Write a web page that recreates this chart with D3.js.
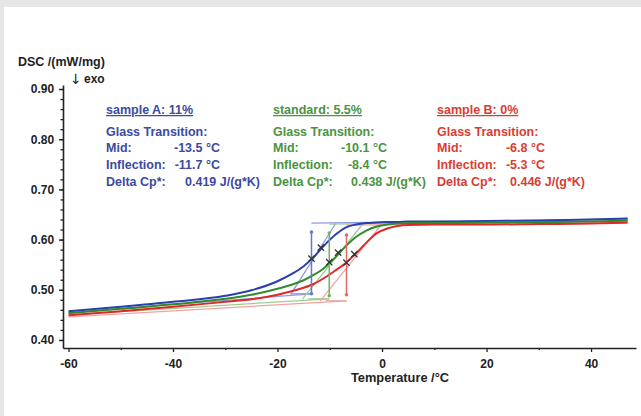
<!DOCTYPE html>
<html>
<head>
<meta charset="utf-8">
<script src="https://cdn.jsdelivr.net/npm/d3@7"></script>
<style>
  body { margin: 0; background: #e6e6e6; }
  #chart { position: absolute; left: 4px; top: 7px; width: 637px; height: 409px; background: #fff; }
  svg { position: absolute; left: 0; top: 0; }
  text { font-family: "Liberation Sans", Arial, sans-serif; font-weight: bold; }
</style>
</head>
<body>
<div id="chart"></div>
<svg width="641" height="416"></svg>
<script>
// temperature grid (°C) and DSC signal (mW/mg) per run
const temps = [-60, -50, -40, -30, -25, -20, -17, -15, -13, -11, -9, -7, -5, -3, -1, 1, 3, 5, 10, 20, 30, 40, 47];
const sampleA = [0.457, 0.466, 0.476, 0.488, 0.499, 0.517, 0.533, 0.547, 0.566, 0.589, 0.609, 0.624, 0.630, 0.633, 0.634, 0.635, 0.635, 0.636, 0.636, 0.637, 0.638, 0.640, 0.642];
const standard = [0.453, 0.462, 0.471, 0.482, 0.490, 0.502, 0.511, 0.519, 0.530, 0.544, 0.564, 0.586, 0.605, 0.618, 0.626, 0.630, 0.632, 0.633, 0.633, 0.634, 0.635, 0.636, 0.638];
const sampleB = [0.449, 0.457, 0.466, 0.476, 0.481, 0.490, 0.498, 0.504, 0.512, 0.524, 0.538, 0.553, 0.572, 0.594, 0.613, 0.622, 0.627, 0.629, 0.630, 0.630, 0.631, 0.632, 0.634];

// glass transition evaluation
const names = ["sample A: 11%", "standard: 5.5%", "sample B: 0%"];
const midT = [-13.5, -10.1, -6.8];
const inflT = [-11.7, -8.4, -5.3];
const deltaCp = [0.419, 0.438, 0.446];
const midV = [0.562, 0.555, 0.554];
const inflV = [0.584, 0.574, 0.571];
const baseStart = [0.455, 0.450, 0.446];
const baseLow = [0.492, 0.482, 0.478];
const baseHigh = [0.633, 0.631, 0.629];
const baseEnd = [0.641, 0.637, 0.633];
const tanLowT = [-17.4, -15.2, -11.8];
const tanHighT = [-8.8, -3.7, -0.2];
const arrowTop = [0.615, 0.613, 0.609];
const arrowBottom = [0.492, 0.488, 0.490];

const xTicks = [-60, -40, -20, 0, 20, 40];
const yTicks = [0.4, 0.5, 0.6, 0.7, 0.8, 0.9];

const colors = ["#2b3fae", "#2e8b2e", "#e02828"];
const lightColors = ["#8e9ade", "#9fcb92", "#f2a3a0"];
const midColors = ["#6676cc", "#6fb264", "#e86a66"];
const textColors = ["#3b4aa2", "#4a9442", "#d93d33"];
const blockX = [106, 273, 437];
const valueEnd = [220, 387, 545];
const cpStart = [185, 351, 510];

const svg = d3.select("svg");
const x = d3.scaleLinear().domain([-61.05, 48.6]).range([63, 636]);
const y = d3.scaleLinear().domain([0.384, 0.908]).range([348, 85]);

const series = [sampleA, standard, sampleB].map((vals) => temps.map((t, i) => [t, vals[i]]));
const line = d3.line().x((d) => x(d[0])).y((d) => y(d[1]));

// axes
const xAxis = svg.append("g").attr("transform", "translate(0,348)")
  .call(d3.axisBottom(x).tickValues(xTicks).tickFormat((d) => d).tickSize(4).tickSizeOuter(0));
svg.append("g").attr("transform", "translate(0,348)")
  .call(d3.axisBottom(x).tickValues(d3.range(-50, 40, 20)).tickFormat("").tickSize(2).tickSizeOuter(0))
  .select(".domain").remove();
const yAxis = svg.append("g").attr("transform", "translate(63,0)")
  .call(d3.axisLeft(y).tickValues(yTicks).tickFormat(d3.format(".2f")).tickSize(4).tickSizeOuter(0));
svg.append("g").attr("transform", "translate(63,0)")
  .call(d3.axisLeft(y).tickValues(d3.range(0.40, 0.905, 0.02)).tickFormat("").tickSize(2.5).tickSizeOuter(0))
  .select(".domain").remove();

svg.selectAll(".domain").attr("stroke", "#222").attr("stroke-width", 1.6);
svg.selectAll(".tick line").attr("stroke", "#222").attr("stroke-width", 1.3);
xAxis.selectAll("text").attr("font-size", 12).attr("fill", "#222").attr("dy", "1.05em");
yAxis.selectAll("text").attr("font-size", 12).attr("fill", "#222").attr("dx", "-0.15em");
svg.selectAll("g").attr("font-family", null);

svg.append("text").attr("x", 18).attr("y", 66).attr("font-size", 12.5).attr("fill", "#222").text("DSC /(mW/mg)");
svg.append("text").attr("x", 70).attr("y", 84).attr("font-size", 14)
  .style("font-family", "'DejaVu Sans', sans-serif").style("font-weight", "normal").attr("fill", "#222").text("↓");
svg.append("text").attr("x", 84).attr("y", 83).attr("font-size", 12).attr("fill", "#222").text("exo");
svg.append("text").attr("x", 400).attr("y", 382).attr("text-anchor", "middle").attr("font-size", 12.8).attr("fill", "#222").text("Temperature /°C");

// evaluation construction lines
names.forEach((n, i) => {
  const g = svg.append("g").attr("stroke", lightColors[i]).attr("stroke-width", 1.3).attr("fill", "none");
  g.append("path").attr("d", line([[-60, baseStart[i]], [midT[i], baseLow[i]]]));
  g.append("path").attr("d", line([[midT[i] - 4, baseLow[i]], [midT[i], baseLow[i]]]));
  g.append("path").attr("d", line([[midT[i], baseHigh[i]], [47, baseEnd[i]]]));
  g.append("path").attr("d", line([[tanLowT[i], baseLow[i]], [tanHighT[i], baseHigh[i]]]));
});

// curves
svg.selectAll(".curve").data(series).enter().append("path")
  .attr("class", "curve")
  .attr("fill", "none")
  .attr("stroke", (d, i) => colors[i])
  .attr("stroke-width", 2)
  .attr("d", d3.line().x((d) => x(d[0])).y((d) => y(d[1])).curve(d3.curveMonotoneX));

// delta Cp markers
names.forEach((n, i) => {
  svg.append("line")
    .attr("x1", x(midT[i])).attr("x2", x(midT[i]))
    .attr("y1", y(arrowTop[i])).attr("y2", y(arrowBottom[i]))
    .attr("stroke", midColors[i]).attr("stroke-width", 1.5);
  [arrowTop[i], arrowBottom[i]].forEach((v) => {
    svg.append("circle").attr("cx", x(midT[i])).attr("cy", y(v)).attr("r", 1.8).attr("fill", midColors[i]);
  });
  [[midT[i], midV[i]], [inflT[i], inflV[i]]].forEach((p) => {
    svg.append("path")
      .attr("transform", `translate(${x(p[0])},${y(p[1])})`)
      .attr("d", d3.symbol().type(d3.symbolTimes).size(28)())
      .attr("stroke", "#333").attr("stroke-width", 1.3).attr("fill", "none");
  });
});

// result blocks
names.forEach((n, i) => {
  const g = svg.append("g").attr("fill", textColors[i]).attr("font-size", 12.5);
  g.append("text").attr("x", blockX[i]).attr("y", 114).style("text-decoration", "underline").text(n);
  g.append("text").attr("x", blockX[i]).attr("y", 136).text("Glass Transition:");
  g.append("text").attr("x", blockX[i]).attr("y", 152).text("Mid:");
  g.append("text").attr("x", valueEnd[i]).attr("y", 152).attr("text-anchor", "end").text(`${midT[i].toFixed(1)} °C`);
  g.append("text").attr("x", blockX[i]).attr("y", 169).text("Inflection:");
  g.append("text").attr("x", valueEnd[i]).attr("y", 169).attr("text-anchor", "end").text(`${inflT[i].toFixed(1)} °C`);
  g.append("text").attr("x", blockX[i]).attr("y", 186).text("Delta Cp*:");
  g.append("text").attr("x", cpStart[i]).attr("y", 186).text(`${deltaCp[i].toFixed(3)} J/(g*K)`);
});
</script>
</body>
</html>
